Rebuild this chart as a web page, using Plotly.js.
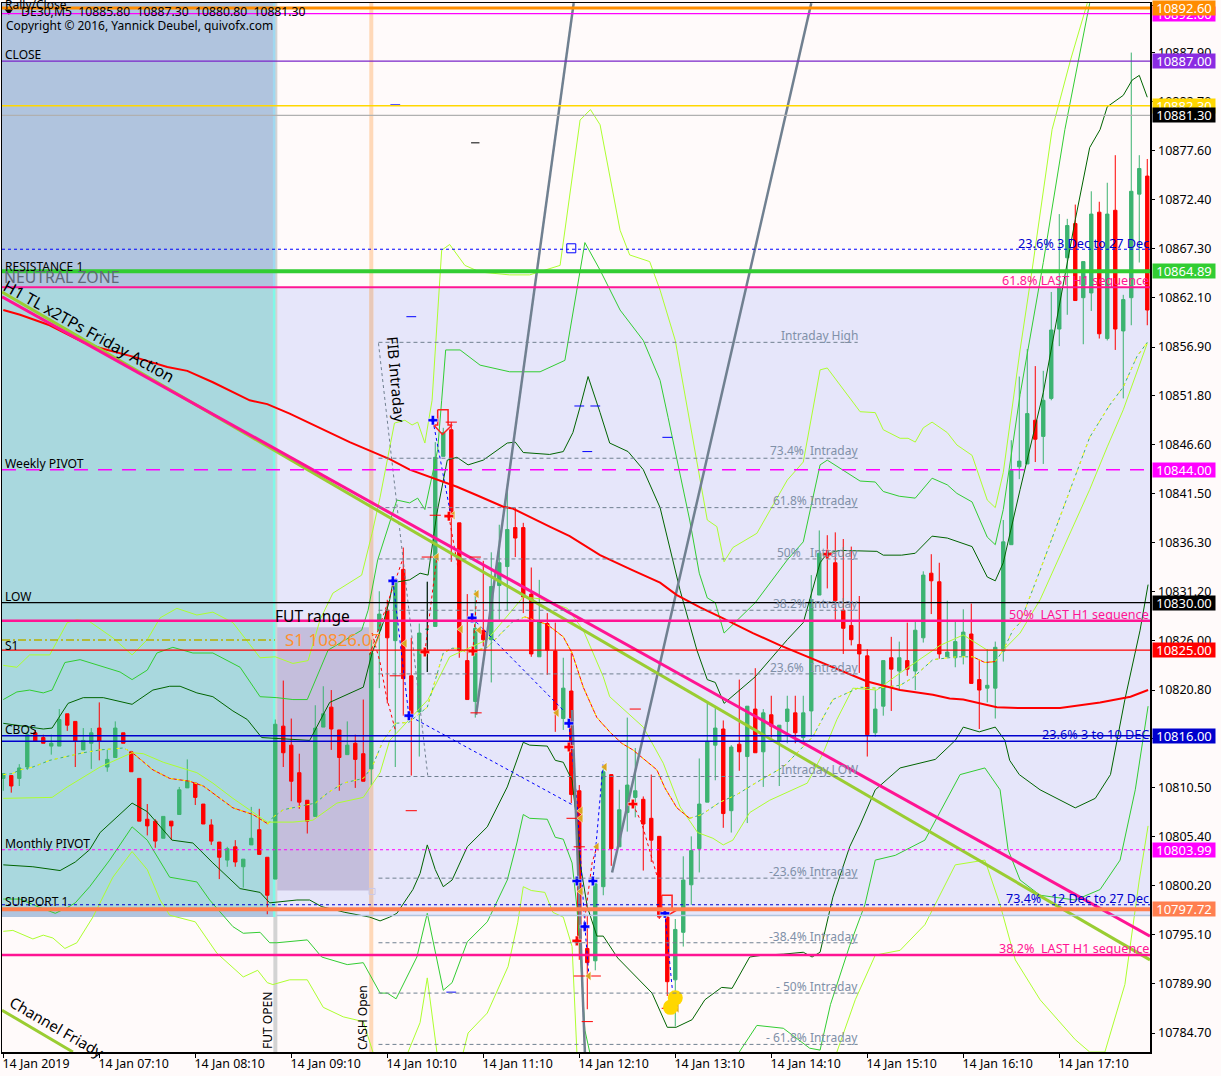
<!DOCTYPE html>
<html><head><meta charset="utf-8">
<script src="https://cdn.plot.ly/plotly-3.0.1.min.js"></script>
<style>html,body{margin:0;padding:0;background:#FFFAFA}#c{width:1221px;height:1076px}</style>
</head><body><div id="c"></div>
<script>
// ---- candles: one row per 5-minute bar, [open, high, low, close]
const bars = [
[10811.5,10812.0,10810.2,10812.0],[10811.8,10811.8,10810.0,10810.7],[10811.5,10813.0,10810.7,10812.6],[10812.7,10816.5,10812.4,10816.1],
[10816.3,10816.6,10815.4,10815.4],[10815.8,10816.1,10815.2,10815.2],[10814.9,10816.1,10814.0,10815.2],[10814.9,10818.8,10814.9,10817.7],
[10818.3,10818.3,10816.5,10817.1],[10817.5,10817.5,10812.7,10815.4],[10814.5,10816.8,10814.5,10815.5],[10815.2,10816.8,10812.5,10816.3],
[10816.8,10819.5,10813.4,10815.4],[10812.7,10814.5,10812.2,10813.5],[10813.7,10817.5,10813.7,10816.8],[10816.3,10816.3,10815.2,10815.2],
[10814.3,10814.4,10812.2,10812.2],[10811.5,10811.5,10807.0,10807.0],[10807.2,10808.8,10805.5,10806.5],[10807.0,10807.2,10804.2,10804.9],
[10805.2,10807.5,10805.2,10807.5],[10807.0,10807.0,10805.0,10806.5],[10807.7,10810.6,10807.7,10810.3],[10810.5,10813.5,10810.5,10811.2],
[10811.0,10811.0,10808.7,10809.5],[10808.8,10808.8,10806.7,10806.7],[10806.6,10807.2,10804.5,10804.9],[10804.8,10804.8,10800.9,10803.2],
[10802.9,10804.3,10802.2,10804.1],[10804.3,10805.0,10802.2,10802.7],[10802.2,10803.0,10800.0,10803.0],[10804.5,10808.5,10804.5,10805.2],
[10806.1,10808.3,10803.5,10803.5],[10803.2,10803.2,10797.2,10799.2],[10800.9,10817.7,10800.9,10817.2],[10817.0,10821.8,10812.7,10814.2],
[10815.0,10817.8,10809.1,10811.2],[10812.1,10814.1,10808.3,10809.0],[10809.2,10809.2,10805.7,10807.0],[10807.5,10819.2,10807.5,10816.8],
[10816.9,10821.2,10816.9,10818.3],[10819.0,10820.8,10814.5,10816.7],[10816.6,10816.6,10810.2,10813.7],[10814.0,10817.5,10814.0,10815.0],
[10815.2,10816.1,10810.5,10813.5],[10814.1,10819.8,10811.2,10811.2],[10812.5,10826.1,10810.8,10824.7],[10827.1,10831.2,10821.0,10828.8],
[10829.2,10830.3,10819.4,10826.3],[10826.0,10832.1,10812.7,10832.1],[10833.5,10835.8,10818.1,10822.0],[10822.3,10826.3,10811.8,10818.2],
[10818.5,10827.8,10813.8,10826.8],[10827.2,10832.2,10822.7,10827.2],[10827.5,10846.9,10827.5,10845.3],[10845.4,10848.4,10845.4,10847.9],
[10848.2,10849.0,10834.3,10839.4],[10838.4,10838.4,10824.2,10825.0],[10823.9,10830.9,10819.8,10819.8],[10819.6,10831.3,10817.9,10827.3],
[10827.1,10834.4,10825.4,10826.1],[10826.1,10835.3,10821.6,10831.7],[10831.8,10838.2,10828.2,10834.2],[10833.8,10841.9,10829.2,10837.7],
[10837.9,10840.0,10834.8,10836.8],[10837.9,10838.4,10828.9,10830.6],[10830.9,10833.7,10824.3,10824.6],[10824.3,10832.4,10824.3,10828.0],
[10827.8,10828.9,10822.4,10825.0],[10824.9,10827.9,10816.4,10818.7],[10817.8,10824.2,10816.6,10821.0],[10820.7,10824.7,10808.9,10809.8],
[10810.2,10810.8,10792.4,10794.2],[10793.6,10797.1,10787.2,10792.1],[10792.3,10800.4,10791.3,10800.4],[10800.1,10812.9,10799.2,10812.2],
[10811.9,10811.9,10802.3,10804.1],[10804.3,10810.3,10804.3,10808.2],[10807.9,10817.9,10805.9,10810.8],[10809.5,10814.7,10807.4,10810.2],
[10809.3,10809.6,10801.8,10806.7],[10807.3,10811.9,10802.7,10805.0],[10805.4,10805.4,10796.7,10796.9],[10796.9,10796.9,10788.6,10790.1],
[10790.3,10796.7,10785.4,10795.6],[10795.3,10803.3,10793.8,10800.8],[10800.3,10805.4,10798.2,10803.9],[10804.1,10813.6,10801.6,10808.8],
[10809.0,10819.5,10809.0,10815.4],[10815.0,10818.9,10811.3,10816.8],[10816.7,10817.6,10806.3,10807.8],[10808.1,10815.0,10805.8,10814.8],
[10815.1,10821.9,10812.3,10814.3],[10813.8,10819.1,10806.8,10819.1],[10818.8,10823.1,10814.2,10814.2],[10814.3,10818.8,10810.6,10818.4],
[10818.2,10820.2,10815.8,10817.0],[10815.4,10817.1,10810.7,10817.1],[10817.5,10820.2,10815.2,10818.8],[10818.4,10820.2,10815.2,10816.3],
[10815.8,10820.2,10815.2,10818.4],[10818.6,10832.9,10815.9,10830.3],[10830.8,10837.6,10830.8,10835.2],[10835.2,10837.1,10831.5,10834.8],
[10834.2,10837.4,10828.2,10830.2],[10829.2,10836.7,10824.6,10827.3],[10827.6,10835.9,10825.5,10826.1],[10825.6,10830.7,10822.6,10824.6],
[10824.4,10825.1,10813.8,10816.1],[10816.3,10820.8,10815.9,10818.8],[10819.1,10823.9,10818.1,10823.9],[10824.2,10826.4,10818.6,10823.0],
[10822.8,10825.9,10820.8,10824.2],[10823.9,10827.9,10822.3,10823.0],[10822.8,10828.0,10820.8,10827.1],[10826.3,10833.3,10825.8,10832.9],
[10833.1,10835.1,10828.8,10832.3],[10832.2,10834.2,10824.1,10824.6],[10824.3,10830.2,10824.3,10824.8],[10824.2,10828.1,10823.2,10825.9],
[10824.4,10829.3,10823.5,10826.9],[10826.7,10829.9,10821.5,10821.5],[10821.9,10824.0,10816.7,10820.8],[10821.0,10825.1,10819.5,10821.3],
[10821.0,10825.9,10817.8,10825.3],[10824.9,10838.7,10823.8,10836.4],[10836.1,10847.1,10836.1,10843.9],[10844.3,10853.8,10843.0,10844.9],
[10844.6,10856.7,10844.6,10849.9],[10849.2,10854.9,10844.8,10847.2],[10847.5,10854.4,10844.6,10851.3],[10851.5,10862.7,10851.3,10858.7],
[10858.8,10870.9,10857.0,10863.2],[10866.3,10870.4,10860.3,10869.7],[10869.9,10871.9,10861.8,10861.8],[10862.1,10865.9,10857.2,10865.9],
[10862.6,10873.3,10860.7,10870.9],[10871.1,10872.2,10857.8,10858.3],[10857.8,10874.2,10857.6,10870.9],[10871.3,10877.1,10856.6,10858.8],
[10858.6,10862.4,10851.5,10861.9],[10862.1,10887.9,10859.2,10873.3],[10873.0,10877.1,10865.8,10875.7],[10874.9,10876.7,10859.2,10860.8]
];
const dojiBar = 53;
const tickHours = ['14 Jan 2019','14 Jan 07:10','14 Jan 08:10','14 Jan 09:10','14 Jan 10:10','14 Jan 11:10','14 Jan 12:10','14 Jan 13:10','14 Jan 14:10','14 Jan 15:10','14 Jan 16:10','14 Jan 17:10'];
const priceTicks = [10892.90,10887.90,10882.70,10877.60,10872.40,10867.30,10862.10,10856.90,10851.80,10846.60,10841.50,10836.30,10831.20,10826.00,10820.80,10815.70,10810.50,10805.40,10800.20,10795.10,10789.90,10784.70];

// ---- indicator lines: [bar, price]; null breaks a line
const bandDarkUpper = [[0,10817.3],[5,10816.7],[6.1,10816.8],[8.1,10819.4],[10,10820.0],[12.5,10820.0],[16.1,10819.3],[18.7,10820.8],[20.8,10821.2],[22.1,10821.2],[24.2,10820.5],[26.2,10820.1],[28.7,10818.6],[30.5,10817.7],[32.3,10815.8],[34.2,10815.7],[38.3,10815.5],[40.8,10819.5],[45,10821.1],[46.1,10824.7],[47.5,10827.9],[48.3,10830.3],[48.7,10832.1],[50.8,10832.4],[52.1,10833.1],[53.1,10832.9],[54.2,10839.4],[55.5,10845.0],[56.7,10845.3],[58.1,10844.5],[60,10845.0],[63,10846.8],[64,10846.9],[65,10845.8],[68.3,10845.6],[70,10845.9],[71.2,10847.9],[72.1,10850.6],[73.1,10853.8],[74.6,10850.0],[75.8,10846.8],[78.1,10845.9],[80,10844.0],[82.1,10840.0],[83.3,10835.9],[84.6,10831.3],[86.7,10825.0],[88,10821.9],[89,10821.6],[90.1,10819.4],[94,10822.2],[98,10826.1],[100,10827.9],[102.1,10834.2],[103,10835.2],[104.6,10835.5],[109.2,10835.4],[110,10835.0],[112.3,10835.0],[114,10835.2],[116.1,10837.0],[118,10836.8],[121.1,10835.9],[123,10832.7],[124,10832.3],[125,10834.2],[127.1,10841.9],[130,10852.1],[131.9,10860.8],[134,10870.3],[135.8,10877.9],[137.1,10879.8],[138,10882.2],[140,10883.4],[141.1,10885.0],[142,10885.5],[143,10883.2]];
const bandDarkLower = [[0,10802.4],[3.7,10802.2],[7.1,10801.8],[9,10802.7],[10.8,10804.0],[12.1,10805.8],[16.1,10808.9],[18,10808.0],[21.1,10805.0],[23.7,10804.7],[26.2,10802.6],[29.6,10799.9],[32.1,10799.5],[33.3,10798.4],[36.7,10798.7],[38.3,10798.7],[39.8,10798.0],[42.7,10797.4],[45.8,10796.9],[47.1,10796.5],[48.3,10796.9],[49.2,10797.3],[51.2,10799.8],[52.1,10801.5],[53,10804.5],[54,10801.9],[55,10800.1],[56.1,10800.8],[58,10804.3],[60.5,10806.4],[63,10810.6],[64.2,10813.4],[65,10815.3],[65.8,10815.0],[68,10814.9],[69,10813.4],[70,10813.2],[71.1,10811.3],[71.8,10806.1],[72.1,10802.6],[73,10798.0],[74.2,10794.9],[75,10794.9],[76.8,10792.6],[81.1,10788.9],[83,10785.3],[84.1,10785.3],[86.1,10786.1],[87.7,10788.2],[89.8,10789.5],[91.1,10789.4],[93.3,10792.7],[95,10792.9],[97.5,10793.0],[100,10793.2],[101.1,10792.7],[102.1,10793.2],[103.7,10799.0],[105.8,10804.3],[107.1,10806.6],[109,10810.3],[112.1,10812.6],[116.5,10813.5],[119,10815.5],[120,10816.9],[122,10816.4],[124,10816.9],[125.2,10815.5],[125.8,10813.4],[127,10811.9],[129.6,10810.3],[134,10808.4],[136.5,10809.4],[138.4,10811.9],[140.2,10819.8],[142.1,10827.1],[143.1,10831.9]];
const bandLimeUpper = [[0,10819.8],[1.7,10820.6],[3.3,10820.8],[5,10820.5],[6.1,10820.8],[7.7,10823.7],[9.6,10824.0],[12.5,10823.2],[14.6,10822.7],[16.1,10821.9],[18,10822.9],[19.2,10824.7],[21.2,10825.3],[23.7,10824.7],[26.2,10824.7],[29.6,10823.2],[32.1,10820.1],[34.2,10820.0],[36.2,10819.8],[38,10819.8],[40.6,10825.0],[44.8,10827.1],[45.6,10829.2],[46.8,10834.5],[48.3,10838.4],[49.2,10840.8],[50.8,10840.5],[51.8,10841.0],[52.7,10839.8],[54.3,10846.1],[54.8,10851.3],[55.3,10856.6],[57.1,10856.6],[59.6,10855.0],[63.3,10854.3],[67.1,10854.3],[70.2,10855.5],[72.7,10867.9],[74.6,10865.0],[77.1,10860.8],[80,10857.6],[82.1,10853.4],[83.1,10849.5],[85.8,10838.7],[87,10833.1],[88,10830.5],[89,10830.0],[90.1,10826.8],[94,10830.0],[98,10834.5],[100,10836.4],[102.1,10844.5],[103,10845.0],[107.1,10842.8],[109,10842.7],[110,10841.7],[112,10841.2],[114,10841.0],[116.1,10843.1],[118,10842.4],[119.2,10841.5],[121.1,10840.6],[123,10836.9],[124,10836.1],[125,10839.8],[127.1,10851.9],[130,10865.8],[132.7,10879.8],[135.8,10893.1]];
const bandLimeLower = [[0,10798.8],[2.1,10798.8],[4.6,10797.9],[6.5,10797.3],[8,10797.9],[9,10798.4],[10.8,10800.1],[13.3,10802.9],[16.1,10806.4],[18,10805.0],[20.8,10801.1],[24.2,10800.6],[25.8,10798.7],[28.7,10795.9],[30,10795.2],[32.1,10795.3],[33.3,10794.2],[34.2,10794.2],[38,10794.5],[39.8,10792.7],[43,10791.9],[45,10792.1],[47.1,10788.9],[48,10788.9],[49.1,10788.3],[51.7,10792.7],[53,10797.3],[55,10789.2],[56.1,10790.0],[58,10794.3],[60.5,10796.4],[63,10800.8],[64.2,10804.7],[65,10807.7],[65.8,10807.3],[68,10807.2],[69,10805.3],[70,10805.1],[71.1,10802.6],[71.7,10798.0],[72.1,10793.4],[72.7,10785.0],[73.3,10782.7],null,[92,10782.7],[94.2,10785.5],[97.5,10785.2],[100.8,10783.1],[102.1,10782.9],[103.4,10787.7],[105.8,10793.9],[107.7,10798.2],[109,10802.9],[111.5,10803.4],[115.2,10805.0],[119.6,10811.9],[122.7,10812.6],[124.6,10810.3],[125.6,10804.0],[127.1,10800.8],[129.6,10799.2],[134,10798.7],[137.1,10799.8],[139.6,10802.9],[141.5,10810.3],[143.1,10819.1]];
const bandYellowUpper = [[0,10823.4],[1.7,10823.2],[3.3,10824.5],[5.8,10824.5],[8,10827.9],[9.2,10828.2],[10.8,10828.0],[13.7,10826.3],[16.1,10824.5],[18,10826.1],[19.6,10828.4],[21.7,10829.4],[24.2,10828.7],[26.2,10829.0],[28.7,10827.9],[32.1,10824.2],[34,10824.3],[36.2,10823.6],[38.1,10823.9],[39.6,10828.2],[41.2,10831.0],[44.8,10832.9],[46.1,10837.3],[47.1,10841.1],[48.9,10848.9],[50.2,10849.2],[51.1,10848.7],[51.8,10849.0],[52.7,10846.8],[53.6,10851.3],[54.8,10867.1],[55.8,10867.7],[57.7,10865.5],[59.6,10864.8],[63.3,10864.5],[65.8,10864.5],[69.6,10865.5],[72.1,10880.8],[73.4,10881.9],[74.6,10880.3],[77.1,10869.2],[78.3,10866.6],[80.8,10865.9],[82.1,10862.9],[84,10857.6],[85.8,10849.2],[88,10838.7],[89.2,10838.0],[90.1,10834.3],[91.2,10835.8],[94.2,10837.3],[98,10842.9],[100,10844.8],[102.1,10854.5],[103,10854.7],[107.1,10850.1],[109,10850.0],[110,10848.2],[112.1,10847.3],[113.1,10847.3],[114,10846.9],[115,10848.4],[116.1,10849.0],[118,10847.9],[119.2,10846.6],[121.1,10845.5],[123,10840.8],[124,10840.0],[125,10843.7],[127.1,10856.6],[128.6,10865.0],[131.1,10879.8],[133.4,10887.1],[135.5,10893.1]];
const bandYellowLower = [[0,10795.4],[1.2,10795.5],[3.7,10794.6],[5,10795.0],[6.2,10794.7],[7.7,10793.6],[9.2,10794.2],[11.2,10796.9],[13.7,10801.1],[16.1,10803.8],[18,10801.9],[19.6,10798.7],[20.8,10797.1],[24,10796.4],[26.7,10793.1],[30,10790.6],[31.8,10791.3],[33,10790.0],[33.7,10789.8],[35.8,10790.3],[38,10790.3],[40,10787.4],[42.5,10786.4],[45,10785.9],[46.2,10782.7],null,[50.6,10782.7],[52.1,10785.8],[53,10790.5],[54.2,10782.7],null,[57.5,10782.7],[58.1,10784.7],[60.5,10786.8],[63.1,10791.7],[64.3,10796.3],[65,10800.1],[66,10799.7],[67.7,10799.5],[68.7,10797.4],[70,10796.9],[71.1,10793.8],[71.7,10782.7],null,[104.2,10782.7],[106.5,10788.2],[109,10792.9],[112.1,10793.4],[115.2,10796.1],[119,10802.4],[122.7,10802.9],[124.6,10798.2],[126.5,10792.4],[129.6,10788.2],[134,10784.0],[135.8,10782.7],[137.7,10782.7],[140.2,10789.8],[142,10800.8],[143.1,10806.5]];
const bandYellowMid = [[0,10809.4],[6.1,10809.5],[8,10810.6],[12.1,10812.7],[16.1,10814.2],[17.5,10814.1],[20,10813.2],[24.2,10812.1],[26.2,10811.0],[28.7,10809.4],[33,10806.9],[36.2,10806.9],[38.7,10807.1],[41.7,10808.9],[45,10809.5],[47.1,10812.1],[48.3,10815.5],[53.1,10819.8],[55.8,10824.3],[60.5,10826.1],[65,10830.6],[67.1,10830.4],[70.5,10829.4],[72.5,10827.1],[75,10822.2],[75.8,10820.1],[80,10816.9],[82.5,10813.1],[84.6,10808.5],[86.8,10805.8],[88.7,10805.2],[90,10804.5],[91.2,10805.0],[93.3,10807.9],[95.8,10809.2],[100.5,10811.0],[102.5,10814.2],[104.2,10817.7],[106.2,10821.0],[109.2,10820.8],[112.1,10822.6],[117.1,10825.5],[120,10826.6],[123,10825.0],[125,10825.0],[127.1,10826.8],[129.6,10830.3],[132.1,10835.0],[135.8,10841.9],[138,10846.4],[140,10850.3],[143,10857.3]];
const maRising = [[0,10811.9],[1.1,10812.0],[2.1,10812.4],[3.7,10812.7],[5.8,10813.4],[8,10813.8],[10,10814.2],[12.1,10814.5],[15,10814.7],[16,10814.3],null,[33.1,10806.7],[33.7,10807.4],[35,10808.2],[37.5,10808.6],[39,10808.9],[40.6,10810.0],[42.5,10811.0],[45,10811.5],[46.1,10812.7],[47.5,10815.5],[49,10817.3],[50.7,10817.4],[53,10819.0],[55,10824.7],[56.1,10825.2],[57,10825.2],[58,10824.7],[60.5,10825.3],[63.7,10828.0],[65.2,10828.5],null,[85.8,10807.3],[87.3,10807.7],[89.6,10809.0],[91.7,10809.8],[94.2,10811.1],[97.5,10812.7],[101.2,10815.9],[103.7,10819.8],[107.1,10821.1],[109.2,10821.0],[112.1,10821.3],[113.7,10822.1],[116.2,10824.0],[119.2,10824.3],[121.2,10824.3],null,[124,10823.8],[125,10825.0],[126.2,10827.1],[127.1,10827.9],[129.6,10833.4],[131.5,10837.7],[133.4,10841.9],[135.8,10847.4],[138.3,10850.8],[140,10852.7],[141.7,10855.9],[143,10857.4]];
const maFalling = [[16,10814.3],[18.7,10812.4],[20.8,10811.5],[23.3,10811.2],[25,10810.7],[27.1,10809.4],[28.7,10808.4],[31.2,10807.7],[33.1,10806.7],null,[65.2,10828.5],[68,10827.7],[70,10826.4],[71.1,10824.7],[72.5,10821.1],[74.2,10817.9],[75.8,10816.4],[77.3,10815.2],[78.7,10814.5],[80.5,10813.2],[81.7,10812.4],[82.7,10810.5],[84.2,10808.4],[85.8,10807.3],null,[121.2,10824.3],[122.7,10823.7],[124,10823.8]];
const maSlow = [[0,10860.8],[2.1,10860.3],[5.8,10859.2],[10,10857.4],[12.1,10856.8],[16.2,10855.9],[20.5,10854.8],[23,10854.4],[26.2,10853.2],[30.8,10851.3],[33,10850.9],[35.8,10849.9],[40.8,10847.9],[43.3,10846.9],[45.8,10846.0],[48.3,10845.1],[50.8,10844.0],[54.2,10843.0],[56.7,10842.2],[59.2,10841.3],[62.5,10840.1],[63.7,10839.9],[65.8,10839.0],[68.3,10838.0],[70.8,10837.0],[74.6,10835.0],[78.7,10833.4],[82.1,10832.1],[84.2,10830.8],[87.1,10829.5],[89.6,10828.5],[93.7,10826.8],[97.1,10825.5],[100.8,10824.2],[104.6,10822.9],[108,10821.7],[112.1,10820.8],[116.2,10820.3],[118.3,10819.9],[120,10819.8],[124.2,10819.0],[127.1,10818.9],[132.1,10818.9],[137.1,10819.5],[140.9,10820.1],[143.1,10820.8]];
const trendPink = [[-0.16,10862.2],[143.34,10794.9]];
const trendOlive = [[-0.16,10862.7],[143.34,10792.4]];
const channelOlive = [[-0.16,10787.1],[8.7,10782.7]];
const fanLines = [[71.3,10893.1],[59.1,10818.2],null,[101,10893.1],[76.1,10801.6],null,[71.1,10818.7],[72.7,10782.7]];
const fibZig = [[46.9,10857.3],[53.1,10811.5]];
const blueZig = [[48.7,10832.3],[50.7,10818.1],[71.4,10808.6],null,[53.7,10849.2],[55.9,10839.4],null,[58.6,10828.4],[70.2,10818.5],null,[70.7,10817.3],[71.7,10809.2],[72.7,10795.9],[73.2,10790.8],null,[73.7,10800.7],[75,10813.3],null,[82.7,10797.3],[83.7,10788.7]];
const redZig = [[45.8,10824.5],[49.9,10834.5],null,[46.1,10826.8],[47.1,10823.7],[47.9,10820.1],[49,10816.6],null,[52.7,10824.8],[54.2,10834.8],null,[55.7,10839.1],[56.9,10833.4],null,[58.7,10824.9],[59.2,10830.9],null,[78.7,10808.8],[79.8,10806.8],[81.7,10801.3],null,[72.5,10795.5],[73.6,10802.6],[74.2,10804.3]];
const sellArrowA = [[54.3,10850.3],[55.6,10850.3],[55.6,10848.7],[56.1,10848.7],[54.9,10847.7],[53.8,10848.7],[54.3,10848.7],[54.3,10850.3]];
const sellArrowB = [[82.3,10799.2],[83.6,10799.2],[83.6,10797.7],[84.3,10797.7],[82.9,10797.0],[81.6,10797.7],[82.3,10797.7],[82.3,10799.2]];

// ---- point markers
const goldTriangles = [[56.2,10839.2],[54.2,10834.8],[50.2,10825.7],[57.2,10827.2],[59.2,10830.9],[69.2,10818.4],[72.2,10808.1],[72.2,10807.3],[72.2,10799.6],[74.2,10804.3],[73.2,10790.7],[75.2,10812.7],[84.2,10787.3],[59.5,10827.1]];
const redCrosses = [[55.7,10839.1],[52.7,10824.8],[58.7,10824.9],[70.7,10814.8],[71.7,10794.4],[78.7,10808.8],[103,10835.1]];
const blueCrosses = [[53.7,10849.2],[48.7,10832.3],[50.7,10818.1],[58.6,10828.4],[70.7,10817.3],[71.7,10800.7],[73.7,10800.7],[72.7,10795.9],[82.7,10797.3]];
const redDashes = [[54,10839.2],[53,10834.8],[56,10849.0],[59,10834.8],[49,10822.3],[59.1,10818.4],[51,10808.1],[71.1,10807.3],[72,10804.3],[72,10790.7],[74,10790.7],[73,10785.9],[83,10787.3],[79,10818.8]];
const blueDashes = [[49,10882.4],[51,10860.1],[72,10850.7],[74,10850.7],[83,10847.4],[73,10845.9],[56,10789.0]];
const blackDashes = [[59,10878.4]];
const fillBlob = [[83.4,10787.4],[84,10788.4]];

// ---- axis frame
const xMin = -0.16, xMax = 143.34, yMin = 10782.70, yMax = 10893.12;
const fibStart = 46.9, fibEnd = 106.8, futOpen = 33.96, cashOpen = 46.1;

const xs = a => a.map(p => p ? p[0] : null);
const ys = a => a.map(p => p ? p[1] : null);
const line = (a, color, width, dash) => ({type:'scatter', mode:'lines', x:xs(a), y:ys(a), hoverinfo:'skip', connectgaps:false, line:{color, width, dash:dash||'solid'}});
const mark = (a, symbol, size, color, lc, lw) => ({type:'scatter', mode:'markers', x:xs(a), y:ys(a), hoverinfo:'skip', marker:{symbol, size, color, line:{color:lc||color, width:lw===undefined?0:lw}}});

const GREEN='#3CB371', RED='#FF0000';
const traces = [
 {type:'candlestick', x:bars.map((b,i)=>i), open:bars.map(b=>b[0]), high:bars.map(b=>b[1]), low:bars.map(b=>b[2]), close:bars.map(b=>b[3]),
  whiskerwidth:0, hoverinfo:'skip',
  increasing:{line:{color:GREEN,width:1}, fillcolor:GREEN},
  decreasing:{line:{color:RED,width:1}, fillcolor:RED}},
 {type:'scatter', mode:'lines', hoverinfo:'skip', x:[dojiBar,dojiBar], y:[bars[dojiBar][1],bars[dojiBar][2]], line:{color:'#000',width:1}},
 line(bandDarkUpper,'#006400',1), line(bandDarkLower,'#006400',1),
 line(bandLimeUpper,'#32CD32',1), line(bandLimeLower,'#32CD32',1),
 line(bandYellowUpper,'#ADFF2F',1), line(bandYellowLower,'#ADFF2F',1), line(bandYellowMid,'#ADFF2F',1),
 line(maRising,'#3CB371',1,'3px,3px'), line(maRising,'#FFFF00',1,'3px,6px'),
 line(maFalling,'#FF0000',1), line(maFalling,'#FFFF00',1,'3px,3px'),
 line(fibZig,'#708090',1,'3px,3px'),
 line(redZig,'#FF0000',1,'3px,3px'), line(blueZig,'#0000FF',1,'3px,3px'),
 line(fanLines,'#708090',2.5),
 line(maSlow,'#FF0000',2),
 line(trendOlive,'#9ACD32',3), line(trendPink,'#FF1493',3), line(channelOlive,'#9ACD32',3),
 line(sellArrowA,'#FF2020',1.5), line(sellArrowB,'#FF2020',1.5),
 mark(redDashes,'line-ew',8,RED,RED,1), mark(blueDashes,'line-ew',7,'#0000FF','#0000FF',1), mark(blackDashes,'line-ew',6,'#000','#000',1),
 mark(goldTriangles,'triangle-left',8,'#DAA520','#FFFFFF',0.5),
 mark(redCrosses,'cross',8,RED,'#FFFFFF',0.5), mark(blueCrosses,'cross',8,'#0000FF','#FFFFFF',0.5),
 mark(fillBlob,'circle',15,'#FFD700'),
 mark([[71,10867.3]],'square-open',9,'#0000FF','#0000FF',1),
 mark([[46.1,10799.6]],'square-open',6,'#C8C8E8','#C8C8E8',1),
 mark([[0.7,10892.3]],'triangle-down',8,'#000')
];

const rect = (x0,x1,y0,y1,fill) => ({type:'rect',layer:'below',xref:'x',yref:'y',x0,x1,y0,y1,fillcolor:fill,line:{width:0}});
const vrule = (x,y0,y1,color,width) => ({type:'line',layer:'below',xref:'x',yref:'y',x0:x,x1:x,y0,y1,line:{color,width}});
const hline = (v,color,width,dash,x0,x1) => ({type:'line',layer:'above',xref:'x',yref:'y',x0:x0===undefined?xMin:x0,x1:x1===undefined?xMax:x1,y0:v,y1:v,line:{color,width,dash:dash||'solid'}});
const fibLevels = [10857.4,10845.2,10840.0,10834.6,10829.2,10822.5,10811.7,10801.0,10794.2,10788.9,10783.5];

const shapes = [
 rect(xMin,futOpen,10796.9,yMax,'#B0C4DE'),
 rect(xMin,futOpen,10797.8,10863.2,'#A9D8DE'),
 rect(futOpen+0.2,xMax,10797.07,10863.2,'#E6E6FA'),
 rect(futOpen+0.2,cashOpen,10799.7,10827.4,'#C4BEDC'),
 vrule(futOpen+0.05,yMin,yMax,'#D3D3D3',4),
 vrule(futOpen-0.1,10796.9,10863.2,'#80F8E8',2.5),
 vrule(futOpen-0.1,10863.2,yMax,'#A0D8F0',2.5),
 vrule(cashOpen-0.1,yMin,yMax,'#FFD8B8',4),
 vrule(cashOpen-0.1,10797.07,10863.2,'#E8C8B8',4),
 hline(10892.60,'#FF8C00',3), hline(10892.00,'#FF00FF',1.2), hline(10887.00,'#7A25C8',1.2),
 hline(10882.30,'#FFD700',1.5), hline(10881.30,'#B0B0B0',1.2),
 hline(10867.2,'#0000FF',1,'3px,3px'), hline(10864.89,'#32CD32',4), hline(10863.2,'#FF1493',2),
 hline(10844.00,'#FF00FF',1.5,'14px,10px'), hline(10830.00,'#000000',1.2), hline(10828.1,'#FF1493',2.5),
 hline(10826.07,'#B8B000',1.5,'8px,3px,2px,3px',xMin,futOpen), hline(10825.00,'#FF0000',1.2),
 hline(10816.00,'#0000CD',1.5), hline(10815.4,'#0000CD',1.5), hline(10803.99,'#FF00FF',1,'3px,3px'),
 hline(10798.2,'#0000CD',1,'3px,3px'), hline(10797.72,'#FF7F50',4), hline(10797.07,'#B0C4DE',1.5,'solid',futOpen+0.2,xMax),
 hline(10792.9,'#FF1493',2.5)
].concat(fibLevels.map(v => hline(v,'#708090',1,'4px,3px',fibStart,fibEnd)));

const FONT='Noto Sans';
const txt = (text,x,y,color,size,opt) => Object.assign({text,x,y,xref:'x',yref:'y',showarrow:false,xanchor:'left',yanchor:'middle',font:{family:FONT,size:size||12,color:color||'#000'},borderpad:0,borderwidth:0}, opt||{});
const priceTag = (text,v,bg,fg) => ({text,x:1.0017,y:v,xref:'paper',yref:'y',showarrow:false,xanchor:'left',yanchor:'middle',width:62,height:14,align:'center',bgcolor:bg,font:{family:FONT,size:13,color:fg||'#FFF'},borderpad:0});
const grey='#8090A8', pink='#FF1493', blue='#0000CD';
const annotations = [
 txt('Rally/Close',0.2,10893.0,'#000',12),
 txt('DE30,M5  10885.80  10887.30  10880.80  10881.30',2.2,10892.2,'#000',12.2),
 txt('Copyright © 2016, Yannick Deubel, quivofx.com',0.4,10890.7,'#000',12),
 txt('CLOSE',0.2,10887.7), txt('RESISTANCE 1',0.2,10865.4), txt('NEUTRAL ZONE',0.1,10864.3,'#606878',15.8),
 txt('Weekly PIVOT',0.2,10844.6,'#000',12.2), txt('LOW',0.2,10830.6), txt('S1',0.2,10825.5), txt('CBOS',0.2,10816.6),
 txt('Monthly PIVOT',0.2,10804.6,'#000',12.2), txt('SUPPORT 1',0.2,10798.5),
 txt('H1 TL x2TPs Friday Action',10.7,10858.6,'#000',16,{textangle:29,xanchor:'center'}),
 txt('Channel Friady',6.7,10785.3,'#000',15,{textangle:30,xanchor:'center'}),
 txt('FIB Intraday',49.1,10853.5,'#000',15,{textangle:85,xanchor:'center'}),
 txt('FUT OPEN',33,10786.0,'#000',12,{textangle:-90,xanchor:'center'}),
 txt('CASH Open',45,10786.3,'#000',12,{textangle:-90,xanchor:'center'}),
 txt('FUT range',34.0,10828.6,'#000',15.5),
 txt('S1 10826.07',35.2,10826.1,'#FF9030',17),
 txt('23.6% 3 Dec to 27 Dec',143.2,10867.9,blue,12.7,{xanchor:'right'}),
 txt('61.8% LAST H1 sequence',143.2,10863.9,pink,12.6,{xanchor:'right'}),
 txt('50%  LAST H1 sequence',143.2,10828.8,pink,12.6,{xanchor:'right'}),
 txt('23.6% 3 to 10 DEC',143.2,10816.2,blue,12.7,{xanchor:'right'}),
 txt('73.4%   12 Dec to 27 Dec',143.2,10798.9,blue,12.5,{xanchor:'right'}),
 txt('38.2%  LAST H1 sequence',143.2,10793.6,pink,12.6,{xanchor:'right'}),
 txt('Intraday High',fibEnd,10858.1,grey,12,{xanchor:'right'}),
 txt('73.4%  Intraday',fibEnd,10846.0,grey,12,{xanchor:'right'}),
 txt('61.8% Intraday',fibEnd,10840.7,grey,12,{xanchor:'right'}),
 txt('50%   Intraday',fibEnd,10835.3,grey,12,{xanchor:'right'}),
 txt('38.2% Intraday',fibEnd,10829.9,grey,12,{xanchor:'right'}),
 txt('23.6%  Intraday',fibEnd,10823.2,grey,12,{xanchor:'right'}),
 txt('Intraday LOW',fibEnd,10812.4,grey,12,{xanchor:'right'}),
 txt('-23.6% Intraday',fibEnd,10801.7,grey,12,{xanchor:'right'}),
 txt('-38.4% Intraday',fibEnd,10794.9,grey,12,{xanchor:'right'}),
 txt('- 50% Intraday',fibEnd,10789.6,grey,12,{xanchor:'right'}),
 txt('- 61.8% Intraday',fibEnd,10784.2,grey,12,{xanchor:'right'}),
 priceTag('10892.00',10892.00,'#FF00FF'), priceTag('10892.60',10892.60,'#FF8C00'),
 priceTag('10887.00',10887.00,'#8A2BE2'), priceTag('10882.30',10882.30,'#FFD700'), priceTag('10881.30',10881.30,'#000000'),
 priceTag('10864.89',10864.89,'#32CD32'), priceTag('10844.00',10844.00,'#FF00FF'), priceTag('10830.00',10830.00,'#000000'),
 priceTag('10825.00',10825.00,'#FF0000'), priceTag('10816.00',10816.00,'#0000CD'), priceTag('10803.99',10803.99,'#FF00FF'),
 priceTag('10797.72',10797.72,'#FF7F50')
];

const layout = {
 width:1221, height:1076, showlegend:false, dragmode:false, boxgap:0.4,
 paper_bgcolor:'#FFFAFA', plot_bgcolor:'#FFFAFA',
 margin:{l:2,r:71,t:3,b:24,pad:0},
 font:{family:FONT,size:12,color:'#000'},
 xaxis:{range:[xMin,xMax], rangeslider:{visible:false}, showgrid:false, zeroline:false, showline:true, mirror:true, linecolor:'#000', linewidth:1.5,
   ticks:'outside', ticklen:4, tickcolor:'#000', tickmode:'array', tickvals:tickHours.map((t,i)=>i*12), ticktext:tickHours,
   tickfont:{family:FONT,size:12.4,color:'#000'}, ticklabelposition:'outside right', ticklabelshift:-2},
 yaxis:{range:[yMin,yMax], side:'right', showgrid:false, zeroline:false, showline:true, mirror:true, linecolor:'#000', linewidth:1.5,
   ticks:'outside', ticklen:3, tickcolor:'#000', tickmode:'array', tickvals:priceTicks, ticktext:priceTicks.map(v=>v.toFixed(2)),
   tickfont:{family:FONT,size:12.5,color:'#000'}, ticklabelstandoff:1},
 shapes, annotations
};
Plotly.newPlot('c', traces, layout, {displayModeBar:false, staticPlot:true});
</script></body></html>
